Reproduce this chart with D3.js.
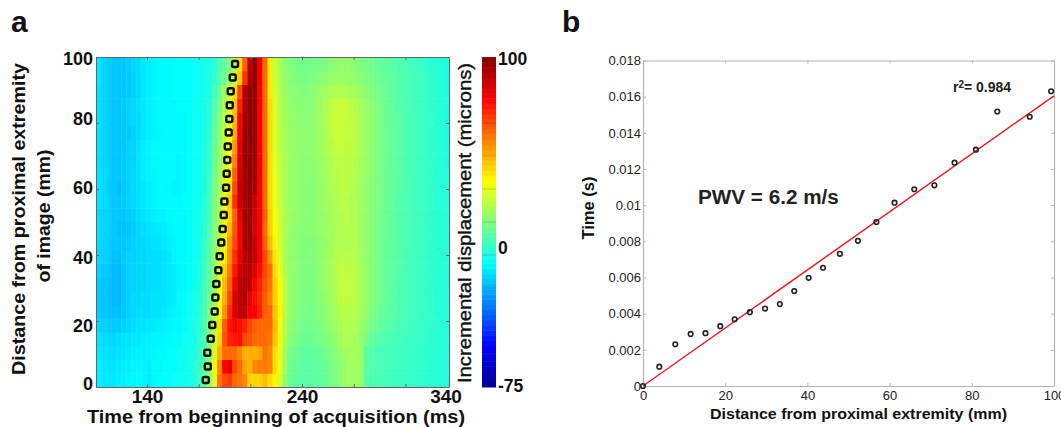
<!DOCTYPE html>
<html>
<head>
<meta charset="utf-8">
<script src="https://cdn.jsdelivr.net/npm/d3@7"></script>
<style>
  html, body { margin: 0; padding: 0; background: #fff; overflow: hidden; }
  svg { display: block; font-family: "Liberation Sans", Arial, sans-serif; }
  text { fill: #111; }
</style>
</head>
<body>
<svg id="chart" width="1061" height="427"></svg>
<script>
// displacement in microns, one row per 4.17 mm (bottom row first), 70 time columns
const displacement = [
  [-12,-13,-13,-13,-12,-12,-11,-11,-10,-11,-13,-10,-9,-9,-9,-8,-8,-7,-6,-4,2,8,16, 28,58,66,68,60,58,55,42,42,42,46,40,36,28,15, 9,7,6,6,6,6,7,8,10,12,15,17,18,18,17,6,4,3,3,2,2,1,1,0,0,-1,-1,-2,-2,-3,-3,-3],
  [-12,-13,-14,-14,-13,-12,-12,-11,-11,-11,-12,-10,-10,-9,-9,-9,-8,-7,-6,-3,1,6,16, 32,55,78,82,66,60,50,48,55,57,57,56,40,30,17, 10,8,7,6,6,7,8,9,11,13,15,17,18,18,17,7,5,4,3,3,2,2,1,1,0,0,-1,-1,-2,-3,-3,-3],
  [-13,-14,-15,-15,-14,-14,-13,-12,-12,-12,-11,-11,-10,-10,-9,-9,-8,-7,-6,-4,0,5,15, 28,48,60,60,60,55,48,48,48,50,58,55,40,30,18, 11,9,8,7,7,8,9,10,12,14,16,18,19,19,17,7,5,4,3,3,2,2,1,1,0,0,-1,-2,-2,-3,-3,-3],
  [-14,-15,-16,-16,-15,-14,-14,-13,-13,-12,-12,-11,-11,-10,-10,-9,-9,-8,-7,-5,-1,4,14, 25,42,64,72,75,76,66,64,60,60,60,58,44,32,20, 14,12,10,9,9,10,11,12,14,16,19,20,20,19,16,12,8,6,5,4,3,3,2,1,1,0,0,-1,-2,-2,-3,-3],
  [-16,-17,-18,-18,-18,-17,-16,-15,-14,-14,-13,-13,-12,-12,-11,-10,-10,-9,-7,-5,-2,4,13, 24,40,62,74,78,76,72,66,62,60,60,60,46,33,20, 15,13,11,10,10,11,12,14,16,18,20,21,21,20,17,14,11,9,7,6,5,4,3,2,1,1,0,-1,-1,-2,-3,-3],
  [-18,-19,-20,-20,-20,-19,-17,-16,-15,-15,-15,-14,-14,-13,-12,-11,-10,-9,-8,-6,-3,3,12, 20,36,52,70,84,90,90,80,78,72,62,60,44,36,22, 16,14,12,11,11,12,14,15,17,19,21,22,22,21,19,16,13,11,9,7,6,5,4,3,2,1,0,0,-1,-2,-3,-3],
  [-18,-19,-20,-21,-21,-19,-17,-16,-16,-15,-15,-14,-14,-14,-13,-12,-10,-9,-8,-6,-3,2,10, 18,34,48,66,84,90,92,82,76,70,62,56,42,34,22, 16,14,12,12,12,13,14,16,18,20,23,24,23,22,20,17,14,12,10,8,6,5,4,3,2,1,0,0,-1,-2,-3,-3],
  [-18,-19,-20,-21,-21,-19,-17,-17,-16,-16,-15,-15,-15,-14,-13,-12,-11,-10,-9,-7,-4,2,9, 17,32,46,62,80,90,92,90,78,72,64,58,42,34,22, 16,14,13,12,12,13,15,17,19,21,24,24,24,22,20,17,14,12,10,8,7,5,4,3,2,1,1,0,-1,-2,-2,-3],
  [-17,-18,-19,-21,-21,-19,-17,-17,-16,-16,-15,-15,-15,-14,-13,-12,-11,-10,-9,-7,-5,1,8, 16,28,42,58,74,86,90,90,84,76,66,60,40,30,21, 16,15,13,12,12,13,15,17,19,21,24,24,23,22,20,17,14,12,10,8,7,6,4,3,2,1,1,0,-1,-2,-2,-3],
  [-16,-17,-18,-20,-20,-18,-17,-17,-16,-16,-15,-15,-15,-14,-13,-11,-10,-10,-9,-8,-5,0,7, 15,26,38,54,70,82,90,92,88,78,66,52,38,28,20, 16,15,13,13,13,14,15,17,19,21,22,22,22,21,19,16,14,12,10,8,7,6,5,3,2,2,1,0,-1,-2,-2,-3],
  [-15,-16,-18,-19,-19,-19,-18,-17,-16,-16,-15,-14,-14,-13,-12,-11,-10,-10,-9,-8,-6,-1,6, 14,24,36,52,66,80,92,94,88,78,62,46,36,26,20, 16,15,14,13,13,14,15,16,18,20,21,21,21,20,18,16,14,12,10,8,7,6,5,4,3,2,1,0,-1,-2,-2,-3],
  [-15,-16,-17,-19,-20,-20,-19,-18,-16,-15,-14,-13,-13,-12,-11,-10,-10,-10,-9,-8,-6,-2,5, 13,22,34,46,64,80,92,96,84,78,60,42,34,26,20, 17,15,14,14,14,15,16,17,18,20,21,21,21,20,18,16,14,12,10,9,7,6,5,4,3,2,1,0,-1,-2,-2,-3],
  [-15,-16,-17,-19,-19,-19,-18,-17,-15,-14,-13,-12,-11,-11,-10,-10,-10,-10,-9,-8,-6,-3,4, 13,21,32,42,62,82,94,95,85,78,62,42,32,26,20, 17,16,15,14,14,15,16,17,19,20,21,22,21,20,18,16,14,12,10,9,8,6,5,4,3,2,1,0,-1,-2,-2,-3],
  [-14,-15,-17,-19,-19,-18,-17,-16,-14,-13,-12,-11,-10,-10,-10,-10,-10,-9,-9,-8,-7,-3,3, 12,20,30,44,70,88,92,95,88,78,60,40,30,25,20, 17,16,15,14,14,15,16,18,19,21,22,22,21,20,18,16,14,12,11,9,8,6,5,4,3,2,1,0,-1,-2,-3,-3],
  [-14,-15,-18,-19,-20,-19,-17,-16,-14,-13,-12,-11,-10,-10,-10,-11,-11,-10,-9,-8,-7,-4,2, 11,19,28,40,66,88,92,97,92,78,60,40,30,24,20, 17,16,15,14,14,15,16,18,20,21,22,23,22,20,18,16,14,13,11,9,8,7,5,4,3,2,1,0,-1,-2,-3,-3],
  [-14,-15,-17,-19,-19,-18,-17,-16,-14,-12,-11,-11,-10,-10,-10,-10,-11,-10,-9,-8,-7,-4,1, 10,18,26,38,62,86,94,97,94,78,60,40,30,24,20, 17,16,15,14,14,15,17,18,20,22,23,23,22,21,19,17,15,13,11,9,8,7,6,4,3,2,1,0,-1,-2,-3,-3],
  [-14,-16,-18,-19,-19,-18,-17,-17,-14,-12,-11,-10,-10,-10,-10,-10,-11,-10,-9,-8,-7,-5,0, 9,17,25,36,56,84,95,97,94,78,60,40,29,24,20, 17,16,15,14,15,16,17,19,21,22,23,23,23,21,19,17,15,13,11,10,8,7,6,4,3,2,1,0,-1,-2,-3,-4],
  [-14,-16,-18,-19,-19,-19,-17,-17,-14,-12,-11,-10,-10,-10,-10,-10,-10,-10,-9,-8,-7,-5,0, 8,16,24,34,52,82,95,97,95,78,60,40,28,23,19, 17,16,15,15,15,16,18,20,22,24,24,24,23,22,20,17,15,13,11,10,8,7,6,4,3,2,1,0,-1,-2,-3,-4],
  [-14,-16,-18,-19,-19,-19,-18,-17,-15,-13,-12,-11,-11,-10,-10,-10,-10,-10,-9,-8,-7,-6,-1, 7,15,23,32,48,80,95,97,95,78,60,40,28,23,19, 17,16,15,15,15,16,18,20,23,25,25,25,24,22,20,17,15,13,11,10,8,7,6,4,3,2,1,0,-1,-2,-3,-4],
  [-14,-16,-18,-19,-19,-19,-17,-16,-15,-13,-12,-11,-10,-10,-10,-10,-10,-10,-9,-8,-7,-6,-2, 6,14,22,30,46,78,94,97,95,78,60,40,28,22,18, 16,15,15,14,15,16,18,20,24,25,25,25,24,22,20,17,15,13,11,9,8,7,6,4,3,2,1,0,-1,-2,-3,-4],
  [-14,-16,-18,-19,-19,-18,-17,-16,-14,-13,-12,-11,-10,-10,-10,-10,-9,-9,-9,-8,-7,-6,-3, 4,12,20,28,44,72,92,97,95,78,60,40,27,22,18, 16,15,14,14,14,16,18,20,23,25,25,25,23,21,19,17,15,13,11,9,8,6,5,4,3,2,1,0,-1,-2,-3,-4],
  [-14,-16,-18,-19,-19,-19,-18,-17,-15,-13,-12,-11,-10,-10,-10,-9,-9,-9,-9,-8,-7,-6,-4, 2,10,17,26,40,66,92,97,96,78,60,38,26,21,17, 15,14,13,13,14,15,17,18,20,21,21,20,19,18,16,15,13,11,10,9,7,6,5,4,3,2,1,0,-1,-2,-3,-4],
  [-13,-16,-18,-19,-19,-19,-18,-17,-15,-13,-12,-11,-10,-10,-10,-9,-9,-9,-9,-8,-7,-6,-4, -1,5,10,15,25,44,70,92,97,80,60,38,25,20,16, 14,13,12,11,12,13,14,15,16,17,17,17,16,15,14,13,12,10,9,8,7,6,5,4,3,2,1,0,-1,-2,-3,-4],
  [-13,-16,-18,-19,-19,-19,-18,-16,-15,-13,-12,-11,-10,-10,-10,-9,-9,-9,-9,-8,-7,-6,-4, -2,3,8,12,20,40,62,90,97,80,60,38,24,20,15, 13,11,10,10,10,11,12,13,14,15,16,16,15,14,12,11,10,9,8,7,6,5,4,3,2,1,0,-1,-2,-3,-3,-4]
];

// wave arrival picked on each row
const arrivalTime = [177.9,179.2,178.9,181.1,182.1,183.7,184.1,184.7,186,186.9,187.9,188.8,189.5,189.9,191,191.4,191.8,192.1,192.7,193.1,193.4,194,195.3,196.8];
const arrivalDist = [2.1,6.2,10.4,14.6,18.8,22.9,27.1,31.2,35.4,39.6,43.8,47.9,52.1,56.2,60.4,64.6,68.8,72.9,77.1,81.2,85.4,89.6,93.8,97.9];

const timeTicks = [140, 173.3, 206.7, 240, 273.3, 306.7];
const timeLabels = [140, 240];
const distTicks = [0, 20, 40, 60, 80, 100];
const distLabelShift = [-4, 4, 2, -2, -5, 1]; // labels sit a bit off their ticks in the figure
const barTicks = [-57.5, -40, -22.5, -5, 12.5, 30, 47.5, 65, 82.5];

// panel b
const pwvDist = [0,3.97,7.86,11.6,15.2,18.8,22.3,26,29.7,33.3,36.8,40.3,43.8,47.9,52.3,56.8,61.2,66,70.9,75.8,81,86.2,94.1,99.3];
const pwvTime = [0,0.00107,0.00231,0.00288,0.00292,0.00331,0.00369,0.00408,0.00428,0.00453,0.00525,0.00598,0.00654,0.00731,0.00803,0.00907,0.01014,0.01088,0.0111,0.01235,0.01307,0.01518,0.01489,0.0163];
const fitDist = [0, 100];
const fitTime = [0, 0.01605];
const pwvDistTicks = [0, 20, 40, 60, 80, 100];
const pwvTimeTicks = [0, 0.002, 0.004, 0.006, 0.008, 0.01, 0.012, 0.014, 0.016, 0.018];

const svg = d3.select("#chart");

// matlab jet
const jet = d3.scaleLinear()
  .domain([0, 1/8, 3/8, 5/8, 7/8, 1].map(d => -75 + d * 175))
  .range(["#00008f", "#0000ff", "#00ffff", "#ffff00", "#ff0000", "#800000"])
  .clamp(true);

svg.append("defs").append("filter").attr("id", "soft")
  .attr("x", 0).attr("y", 0).attr("width", 1).attr("height", 1)
  .append("feGaussianBlur").attr("stdDeviation", 0.7);

/* ---------- panel a ---------- */
const a = { left: 96, right: 449, top: 57, bottom: 387 };

const colX = d3.scaleBand().domain(d3.range(70)).range([a.left, a.right]);
const rowY = d3.scaleBand().domain(d3.range(24)).range([a.bottom, a.top]);
const timeX = d3.scaleLinear().domain([107.1, 334.8]).range([a.left, a.right]);
const distY = d3.scaleLinear().domain([0, 100]).range([a.bottom, a.top]);

const cells = svg.append("g").attr("filter", "url(#soft)");
displacement.forEach((row, r) => {
  cells.selectAll(null)
    .data(row)
    .enter()
    .append("rect")
    .attr("x", (d, c) => colX(c))
    .attr("y", rowY(r))
    .attr("width", colX.bandwidth() + 0.5)
    .attr("height", rowY.bandwidth() + 0.5)
    .attr("fill", d => jet(d));
});

svg.append("g")
  .selectAll("rect")
  .data(arrivalTime)
  .enter()
  .append("rect")
  .attr("x", d => timeX(d) - 3)
  .attr("y", (d, i) => distY(arrivalDist[i]) - 3)
  .attr("width", 6)
  .attr("height", 6)
  .attr("rx", 1.5)
  .attr("fill", "none")
  .attr("stroke", "#0a0a0a")
  .attr("stroke-width", 2.4);

function styleAxis(g, color) {
  g.selectAll("path").attr("stroke", color);
  g.selectAll("line").attr("stroke", color);
  g.selectAll("text").style("fill", "#111");
}

const aBottom = svg.append("g")
  .attr("transform", `translate(0,${a.bottom})`)
  .call(d3.axisBottom(timeX).tickValues(timeTicks).tickSizeInner(-3).tickSizeOuter(0)
    .tickFormat(d => timeLabels.includes(d) ? d : ""));
aBottom.selectAll("text").attr("dy", 13).attr("font-size", 19).attr("font-weight", "bold");
styleAxis(aBottom, "#666");

const aTop = svg.append("g")
  .attr("transform", `translate(0,${a.top})`)
  .call(d3.axisTop(timeX).tickValues(timeTicks).tickSizeInner(-3).tickSizeOuter(0).tickFormat(""));
styleAxis(aTop, "#666");

const aLeft = svg.append("g")
  .attr("transform", `translate(${a.left},0)`)
  .call(d3.axisLeft(distY).tickValues(distTicks).tickSizeInner(-3).tickSizeOuter(0).tickPadding(3));
aLeft.selectAll("text").attr("font-size", 18).attr("font-weight", "bold")
  .attr("dy", (d, i) => 6.5 + distLabelShift[i]);
styleAxis(aLeft, "#666");

const aRight = svg.append("g")
  .attr("transform", `translate(${a.right},0)`)
  .call(d3.axisRight(distY).tickValues(distTicks).tickSizeInner(-3).tickSizeOuter(0).tickFormat(""));
styleAxis(aRight, "#666");

svg.append("text").attr("x", 446).attr("y", 403).attr("text-anchor", "middle")
  .attr("font-size", 19).attr("font-weight", "bold").text("340");

svg.append("text").attr("x", 276).attr("y", 423).attr("text-anchor", "middle")
  .attr("font-size", 18.5).attr("font-weight", "bold")
  .attr("textLength", 378).attr("lengthAdjust", "spacingAndGlyphs")
  .text("Time from beginning of acquisition (ms)");

svg.append("text").attr("transform", "translate(25,219) rotate(-90)").attr("text-anchor", "middle")
  .attr("font-size", 18).attr("font-weight", "bold")
  .attr("textLength", 312).attr("lengthAdjust", "spacingAndGlyphs")
  .text("Distance from proximal extremity");
svg.append("text").attr("transform", "translate(50,216) rotate(-90)").attr("text-anchor", "middle")
  .attr("font-size", 18).attr("font-weight", "bold")
  .attr("textLength", 133).attr("lengthAdjust", "spacingAndGlyphs")
  .text("of image (mm)");

svg.append("text").attr("x", 11).attr("y", 32).attr("font-size", 30).attr("font-weight", "bold").text("a");
svg.append("text").attr("x", 562).attr("y", 32).attr("font-size", 30).attr("font-weight", "bold").text("b");

// colour bar
const barY = d3.scaleLinear().domain([-75, 100]).range([a.bottom, a.top]);
const levels = d3.range(64).map(i => -75 + (i + 0.5) * 175 / 64);

svg.append("g")
  .selectAll("rect")
  .data(levels)
  .enter()
  .append("rect")
  .attr("x", 482)
  .attr("y", d => barY(d + 175 / 128))
  .attr("width", 14)
  .attr("height", 330 / 64 + 0.5)
  .attr("fill", d => jet(d));

svg.append("g")
  .selectAll("line")
  .data(barTicks)
  .enter()
  .append("line")
  .attr("x1", 482).attr("x2", 496)
  .attr("y1", d => barY(d)).attr("y2", d => barY(d))
  .attr("stroke", "#555").attr("stroke-opacity", 0.3);

const barLabels = [["100", 65], ["0", 253.5], ["-75", 391.5]];
barLabels.forEach(d => {
  svg.append("text").attr("x", 498).attr("y", d[1])
    .attr("font-size", 17.5).attr("font-weight", "bold").text(d[0]);
});

svg.append("text").attr("transform", "translate(471,223) rotate(-90)").attr("text-anchor", "middle")
  .attr("font-size", 18).style("stroke", "#111").style("stroke-width", 0.4)
  .attr("textLength", 320).attr("lengthAdjust", "spacingAndGlyphs")
  .text("Incremental displacement (microns)");

/* ---------- panel b ---------- */
const b = { left: 643, right: 1054, top: 60.5, bottom: 386 };
const x = d3.scaleLinear().domain([0, 100]).range([b.left, b.right]);
const y = d3.scaleLinear().domain([0, 0.018]).range([b.bottom, b.top]);

const bBottom = svg.append("g")
  .attr("transform", `translate(0,${b.bottom})`)
  .call(d3.axisBottom(x).tickValues(pwvDistTicks).tickSizeInner(-3).tickSizeOuter(0).tickPadding(5));
const bTop = svg.append("g")
  .attr("transform", `translate(0,${b.top})`)
  .call(d3.axisTop(x).tickValues(pwvDistTicks).tickSizeInner(-3).tickSizeOuter(0).tickFormat(""));
const bLeft = svg.append("g")
  .attr("transform", `translate(${b.left},0)`)
  .call(d3.axisLeft(y).tickValues(pwvTimeTicks).tickSizeInner(-3).tickSizeOuter(0).tickPadding(2).tickFormat(d => +d.toFixed(3)));
const bRight = svg.append("g")
  .attr("transform", `translate(${b.right},0)`)
  .call(d3.axisRight(y).tickValues(pwvTimeTicks).tickSizeInner(-3).tickSizeOuter(0).tickFormat(""));

[bBottom, bTop, bLeft, bRight].forEach(g => {
  styleAxis(g, "#b4b4b4");
  g.select(".domain").attr("stroke-width", 1.2);
  g.selectAll("text").attr("font-size", 13).style("fill", "#222");
});

const fitLine = d3.line().x(d => x(d)).y((d, i) => y(fitTime[i]));
svg.append("path")
  .attr("d", fitLine(fitDist))
  .attr("fill", "none")
  .attr("stroke", "#f01c24")
  .attr("stroke-width", 1.5);

svg.append("g")
  .selectAll("circle")
  .data(pwvDist)
  .enter()
  .append("circle")
  .attr("cx", d => x(d))
  .attr("cy", (d, i) => y(pwvTime[i]))
  .attr("r", 2.3)
  .attr("fill", "none")
  .attr("stroke", "#222")
  .attr("stroke-width", 1.6);

svg.append("text").attr("x", 858.5).attr("y", 419).attr("text-anchor", "middle")
  .attr("font-size", 15).attr("font-weight", "bold")
  .attr("textLength", 297).attr("lengthAdjust", "spacingAndGlyphs")
  .text("Distance from proximal extremity (mm)");
svg.append("text").attr("transform", "translate(594,208) rotate(-90)").attr("text-anchor", "middle")
  .attr("font-size", 16).attr("font-weight", "bold")
  .attr("textLength", 63).attr("lengthAdjust", "spacingAndGlyphs")
  .text("Time (s)");
svg.append("text").attr("x", 698).attr("y", 204)
  .attr("font-size", 20.7).attr("font-weight", "bold").style("fill", "#222").text("PWV = 6.2 m/s");

const r2 = svg.append("text").attr("x", 953).attr("y", 92)
  .attr("font-size", 14).attr("font-weight", "bold").style("fill", "#222");
r2.append("tspan").text("r");
r2.append("tspan").attr("dy", -4).attr("font-size", 10).text("2");
r2.append("tspan").attr("dy", 4).text("= 0.984");
</script>
</body>
</html>
